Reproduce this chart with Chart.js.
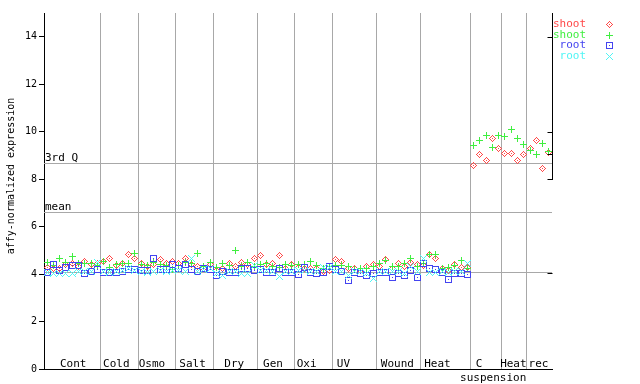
<!DOCTYPE html>
<html><head><meta charset="utf-8">
<script src="https://cdn.jsdelivr.net/npm/chart.js@4.4.1/dist/chart.umd.min.js"></script>
<style>html,body{margin:0;padding:0;background:#fff;}#wrap{width:640px;height:384px;}</style>
</head><body><div id="wrap"><canvas id="c" width="640" height="384"></canvas></div>
<script>
// ---- data ----
const categories = ['Cont','Cold','Osmo','Salt','Dry','Gen','Oxi','UV','Wound','Heat','C','Heat','rec'];
const subLabels = ['','','','','','','','','','','suspension','',''];
const groupSizes = [9,6,6,6,7,6,6,7,7,8,5,4,4];
const seriesNames = ['shoot','shoot','root','root'];
const shootRed = [4.28,4.24,4.24,4.39,4.43,4.31,4.53,4.39,4.43,
 4.52,4.67,4.35,4.43,4.81,4.67,
 4.43,4.30,4.39,4.62,4.46,4.53,
 4.43,4.64,4.39,4.31,4.24,4.39,
 4.15,4.22,4.43,4.31,4.48,4.39,4.64,
 4.78,4.39,4.43,4.78,4.24,4.39,
 4.29,4.24,4.24,4.24,4.10,4.17,
 4.60,4.53,4.24,4.24,4.17,4.31,4.39,
 4.31,4.60,4.24,4.43,4.31,4.48,4.39,
 4.34,4.81,4.67,4.24,4.17,4.39,4.29,4.29,
 8.59,9.03,8.80,9.73,9.31,
 9.10,9.10,8.80,9.03,
 9.28,9.62,8.46,9.11];
const shootGreen = [4.48,4.34,4.67,4.48,4.74,4.43,4.43,4.43,4.34,
 4.53,4.29,4.39,4.43,4.45,4.88,
 4.39,4.35,4.48,4.39,4.35,4.20,
 4.35,4.48,4.46,4.88,4.30,4.48,
 4.29,4.43,4.34,4.98,4.31,4.48,4.31,
 4.39,4.46,4.31,4.29,4.39,4.34,
 4.40,4.39,4.55,4.34,4.24,4.30,
 4.35,4.34,4.31,4.20,4.24,4.24,4.31,
 4.43,4.57,4.31,4.31,4.43,4.67,4.31,
 4.46,4.81,4.81,4.24,4.29,4.35,4.57,4.24,
 9.40,9.62,9.83,9.35,9.83,
 9.78,10.08,9.70,9.45,
 9.21,9.03,9.52,9.15];
const rootBlue = [4.08,4.41,4.17,4.29,4.34,4.34,4.03,4.10,4.20,
 4.08,4.08,4.08,4.10,4.20,4.20,
 4.13,4.13,4.67,4.20,4.20,4.39,
 4.24,4.39,4.20,4.10,4.22,4.20,
 3.94,4.10,4.08,4.08,4.22,4.24,4.15,
 4.20,4.06,4.08,4.24,4.08,4.08,
 3.99,4.29,4.08,4.03,4.08,4.31,
 4.20,4.10,3.71,4.08,4.03,3.92,4.03,
 4.08,4.06,3.85,4.03,3.96,4.15,3.85,
 4.43,4.24,4.20,4.08,3.78,4.03,4.03,3.99];
const rootCyan = [4.08,4.03,4.03,4.03,4.03,4.10,4.10,4.10,4.48,
 4.10,4.08,4.10,4.17,4.24,4.17,
 4.10,4.08,4.10,4.17,4.10,4.17,
 4.17,4.10,4.64,4.10,4.20,4.24,
 4.03,3.96,4.10,4.10,4.03,4.03,4.34,
 4.15,4.17,4.10,3.89,4.10,4.10,
 4.17,4.17,4.10,4.10,4.29,4.29,
 4.10,4.10,3.96,4.10,4.10,4.03,3.82,
 4.10,4.10,4.10,4.10,4.03,4.31,4.10,
 4.64,4.08,4.08,4.10,4.08,4.10,4.10,4.43];
const yTicks = [0,2,4,6,8,10,12,14];
const refValues = [8.67, 6.61, 4.09];
const refLabels = ['3rd Q','mean',''];
const rightTicks = [14,10,9.07,8,4.04];
const yTitle = 'affy-normalized expression';

// ---- layout / style (not data) ----
const labelShift = [1,-3,-5,-2,-1,-3,-7,-11,-1,-8,-7,-1,-1];
const subShift = 14;
const colors = ['#ff4848','#40ee40','#4444f0','#50f5f5'];
const MONO = '"DejaVu Sans Mono", monospace';
const GRID = '#a8a8a8';

function mk(color, pix){
  const c=document.createElement('canvas'); c.width=7; c.height=7;
  const g=c.getContext('2d'); g.fillStyle=color;
  pix.forEach(p=>g.fillRect(p[0],p[1],1,1));
  return c;
}
const diamondPix = [[3,0],[2,1],[4,1],[1,2],[5,2],[0,3],[6,3],[1,4],[5,4],[2,5],[4,5],[3,6],[3,3]];
const plusPix = []; for(let i=0;i<7;i++){ plusPix.push([i,3]); if(i!==3) plusPix.push([3,i]); }
const squarePix = []; for(let i=0;i<7;i++){ squarePix.push([i,0],[i,6]); if(i>0&&i<6) squarePix.push([0,i],[6,i]); } squarePix.push([3,3]);
const xPix = []; for(let i=0;i<7;i++){ xPix.push([i,i]); if(i!==3) xPix.push([i,6-i]); }
const styles = [mk(colors[0],diamondPix), mk(colors[1],plusPix), mk(colors[2],squarePix), mk(colors[3],xPix)];

const nTotal = groupSizes.reduce((a,b)=>a+b,0);
const bounds = []; const starts = []; let acc = 0;
groupSizes.forEach(s=>{ starts.push(acc); acc += s; bounds.push(acc - 0.5); });
bounds.pop();

const seriesVals = [shootRed, shootGreen, rootBlue, rootCyan];
const datasets = seriesVals.map((vals,k)=>({
  label: seriesNames[k],
  data: vals.map((v,i)=>({x:i,y:v})),
  showLine:false,
  pointStyle: styles[k],
  pointRadius: 3.5,
  borderColor: colors[k],
  backgroundColor: colors[k],
  order: 4-k
}));

const decor = {
  id:'decor',
  beforeDatasetsDraw(chart){
    const {ctx, chartArea:a, scales:{y}} = chart;
    ctx.save();
    ctx.strokeStyle = GRID; ctx.lineWidth = 1;
    refValues.forEach((v,i)=>{
      const py = Math.round(y.getPixelForValue(v)) + 0.5;
      ctx.beginPath(); ctx.moveTo(a.left, py); ctx.lineTo(a.right, py); ctx.stroke();
      if (refLabels[i]) {
        ctx.fillStyle = '#000'; ctx.font = '11px ' + MONO; ctx.textAlign='left'; ctx.textBaseline='alphabetic';
        ctx.fillText(refLabels[i], a.left + 1, py - 2.5);
      }
    });
    ctx.restore();
    ctx.imageSmoothingEnabled = false;
  },
  afterDraw(chart){
    const {ctx, chartArea:a, scales:{x,y}} = chart;
    ctx.save();
    ctx.imageSmoothingEnabled = false;
    ctx.font = '11px ' + MONO; ctx.fillStyle = '#000'; ctx.textBaseline = 'alphabetic'; ctx.textAlign = 'center';
    categories.forEach((c,i)=>{
      const cx = x.getPixelForValue(starts[i] + (groupSizes[i]-1)/2) + labelShift[i];
      ctx.fillText(c, cx, a.bottom - 2);
      if (subLabels[i]) ctx.fillText(subLabels[i], cx + subShift, a.bottom + 12);
    });
    // y title
    ctx.save(); ctx.translate(11, 176); ctx.rotate(-Math.PI/2);
    ctx.font = '10px ' + MONO; ctx.textBaseline='middle'; ctx.fillText(yTitle, 0, 0); ctx.restore();
    // right axis
    ctx.strokeStyle = '#000'; ctx.lineWidth = 1;
    const rx = Math.round(a.right) + 0.5;
    ctx.beginPath(); ctx.moveTo(rx, a.top); ctx.lineTo(rx, Math.round(y.getPixelForValue(8))+1); ctx.stroke();
    rightTicks.forEach(v=>{ const py = Math.round(y.getPixelForValue(v)) + 0.5; ctx.beginPath(); ctx.moveTo(rx-5, py); ctx.lineTo(rx, py); ctx.stroke(); });
    // legend
    ctx.textAlign = 'right'; ctx.textBaseline = 'middle'; ctx.font = '11px ' + MONO;
    seriesNames.forEach((n,k)=>{
      const ly = 24 + k*10.7;
      ctx.fillStyle = colors[k]; ctx.fillText(n, 586, ly);
      ctx.drawImage(styles[k], 606, Math.round(ly) - 3);
    });
    ctx.restore();
  }
};

const chart = new Chart(document.getElementById('c'), {
  type:'scatter',
  data:{datasets},
  options:{
    responsive:false, animation:false, devicePixelRatio:1,
    layout:{padding:{top:13,right:88,left:0,bottom:0}},
    plugins:{legend:{display:false}, tooltip:{enabled:false}},
    scales:{
      x:{type:'linear', min:-0.5, max:nTotal-0.5,
        afterBuildTicks(s){ s.ticks = bounds.map(v=>({value:v})); },
        afterFit(s){ s.height = 15; },
        ticks:{display:false},
        grid:{color:GRID, lineWidth:1, drawTicks:false},
        border:{display:true, color:'#000', width:1}
      },
      y:{min:0, max:15,
        afterBuildTicks(s){ s.ticks = yTicks.map(v=>({value:v})); },
        afterFit(s){ s.width = 44; },
        ticks:{font:{family:MONO, size:10}, color:'#000', padding:2},
        grid:{drawOnChartArea:false, drawTicks:true, tickLength:5, color:'#000'},
        border:{display:true, color:'#000', width:1}
      }
    }
  },
  plugins:[decor]
});
</script></body></html>
